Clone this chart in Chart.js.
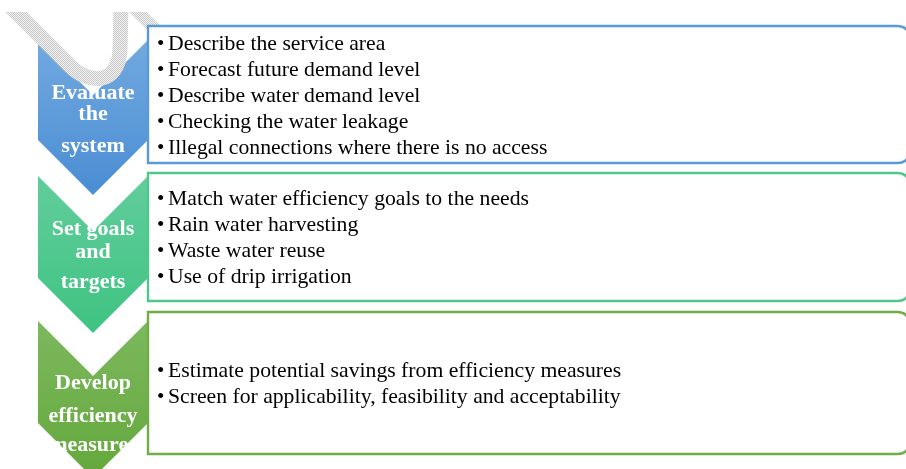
<!DOCTYPE html>
<html lang="en">
<head>
<meta charset="UTF-8">
<title>Water efficiency steps</title>
<style>
  html, body { margin: 0; padding: 0; background: #fff; }
  #wrap { width: 906px; height: 469px; }
</style>
</head>
<body>
<div id="wrap"><canvas id="chart" width="906" height="469"></canvas></div>

<script src="https://cdn.jsdelivr.net/npm/chart.js"></script>
<script>
  // the three steps and the bullet items of each step
  const steps = ['Evaluate the system', 'Set goals and targets', 'Develop efficiency measures'];
  const stepLines = [
    ['Evaluate', 'the', 'system'],
    ['Set goals', 'and', 'targets'],
    ['Develop', 'efficiency', 'measures']
  ];
  const items1 = [
    'Describe the service area',
    'Forecast future demand level',
    'Describe water demand level',
    'Checking the water leakage',
    'Illegal connections where there is no access'
  ];
  const items2 = [
    'Match water efficiency goals to the needs',
    'Rain water harvesting',
    'Waste water reuse',
    'Use of drip irrigation'
  ];
  const items3 = [
    'Estimate potential savings from efficiency measures',
    'Screen for applicability, feasibility and acceptability'
  ];
  const items = [items1, items2, items3];

  // layout (in scale units, the scales map 1:1 onto the canvas)
  const layout = [
    { top: 40,  body: 140, boxTop: 26,  boxBottom: 163, text: [99, 120, 152],
      c1: '#72a9e0', c2: '#4a8dd3', border: '#5b9bd5' },
    { top: 176, body: 278, boxTop: 173, boxBottom: 301, text: [235, 258, 288],
      c1: '#62cd9c', c2: '#3ec381', border: '#4fc78c' },
    { top: 321, body: 423, boxTop: 312, boxBottom: 454, text: [389, 422, 451],
      c1: '#7db85e', c2: '#63a83c', border: '#70ad47' }
  ];
  const chevLeft = 38, chevRight = 148, notch = 55;
  const boxLeft = 148, boxRight = 909, lineH = 26;

  const diagramPlugin = {
    id: 'diagram',
    afterDraw(chart) {
      const ctx = chart.ctx;
      const sx = v => chart.scales.x.getPixelForValue(v);
      const sy = v => chart.scales.y.getPixelForValue(v);
      const mid = (chevLeft + chevRight) / 2;

      ctx.save();
      // chevrons
      layout.forEach((l, i) => {
        const g = ctx.createLinearGradient(0, sy(l.top), 0, sy(l.body + notch));
        g.addColorStop(0, l.c1);
        g.addColorStop(1, l.c2);
        ctx.beginPath();
        ctx.moveTo(sx(chevLeft), sy(l.top));
        ctx.lineTo(sx(mid), sy(l.top + notch));
        ctx.lineTo(sx(chevRight), sy(l.top));
        ctx.lineTo(sx(chevRight), sy(l.body));
        ctx.lineTo(sx(mid), sy(l.body + notch));
        ctx.lineTo(sx(chevLeft), sy(l.body));
        ctx.closePath();
        ctx.fillStyle = g;
        ctx.fill();

        ctx.fillStyle = '#ffffff';
        ctx.font = 'bold 22px "Liberation Serif", "Times New Roman", serif';
        ctx.textAlign = 'center';
        ctx.textBaseline = 'alphabetic';
        stepLines[i].forEach((t, k) => ctx.fillText(t, sx(mid), sy(l.text[k])));
      });

      // faint watermark
      const pc = document.createElement('canvas');
      pc.width = 2; pc.height = 2;
      const p = pc.getContext('2d');
      p.fillStyle = '#f2f2f2'; p.fillRect(0, 0, 2, 2);
      p.fillStyle = '#c8c8c8'; p.fillRect(0, 0, 1, 1); p.fillRect(1, 1, 1, 1);
      ctx.save();
      ctx.beginPath();
      ctx.rect(0, sy(12), chart.width, chart.height);
      ctx.clip();
      ctx.strokeStyle = ctx.createPattern(pc, 'repeat');
      ctx.lineWidth = 15;
      ctx.lineCap = 'butt';
      ctx.beginPath();
      ctx.moveTo(sx(8), sy(4));
      ctx.lineTo(sx(70), sy(66));
      ctx.bezierCurveTo(sx(88), sy(84), sx(118), sy(86), sx(120), sy(50));
      ctx.lineTo(sx(121), sy(4));
      ctx.stroke();
      ctx.lineWidth = 12;
      ctx.beginPath();
      ctx.moveTo(sx(132), sy(6));
      ctx.lineTo(sx(160), sy(34));
      ctx.stroke();
      ctx.restore();

      // boxes with text
      layout.forEach((l, i) => {
        const x0 = sx(boxLeft), x1 = sx(boxRight), y0 = sy(l.boxTop), y1 = sy(l.boxBottom);
        const r = 12;
        ctx.beginPath();
        ctx.moveTo(x0, y0);
        ctx.lineTo(x1 - r, y0);
        ctx.quadraticCurveTo(x1, y0, x1, y0 + r);
        ctx.lineTo(x1, y1 - r);
        ctx.quadraticCurveTo(x1, y1, x1 - r, y1);
        ctx.lineTo(x0, y1);
        ctx.closePath();
        ctx.fillStyle = 'rgba(255,255,255,0.93)';
        ctx.fill();
        ctx.strokeStyle = l.border;
        ctx.lineWidth = 2.4;
        ctx.stroke();

        const list = items[i];
        const center = (l.boxTop + l.boxBottom) / 2;
        const first = center - (list.length - 1) * lineH / 2;
        ctx.fillStyle = '#000000';
        ctx.textAlign = 'left';
        ctx.textBaseline = 'middle';
        list.forEach((t, k) => {
          const y = sy(first + k * lineH + 1.5);
          ctx.font = '21px "Liberation Serif", "Times New Roman", serif';
          ctx.fillText('\u2022', sx(157), y);
          ctx.font = '21.7px "Liberation Serif", "Times New Roman", serif';
          ctx.fillText(t, sx(168), y);
        });
      });
      ctx.restore();
    }
  };

  new Chart(document.getElementById('chart'), {
    type: 'scatter',
    data: { labels: steps, datasets: [{ label: 'steps', data: [], pointRadius: 0 }] },
    options: {
      responsive: false,
      animation: false,
      events: [],
      layout: { padding: 0 },
      plugins: { legend: { display: false }, tooltip: { enabled: false } },
      scales: {
        x: { type: 'linear', min: 0, max: 906, display: false },
        y: { type: 'linear', min: 0, max: 469, reverse: true, display: false }
      }
    },
    plugins: [diagramPlugin]
  });
</script>
</body>
</html>
